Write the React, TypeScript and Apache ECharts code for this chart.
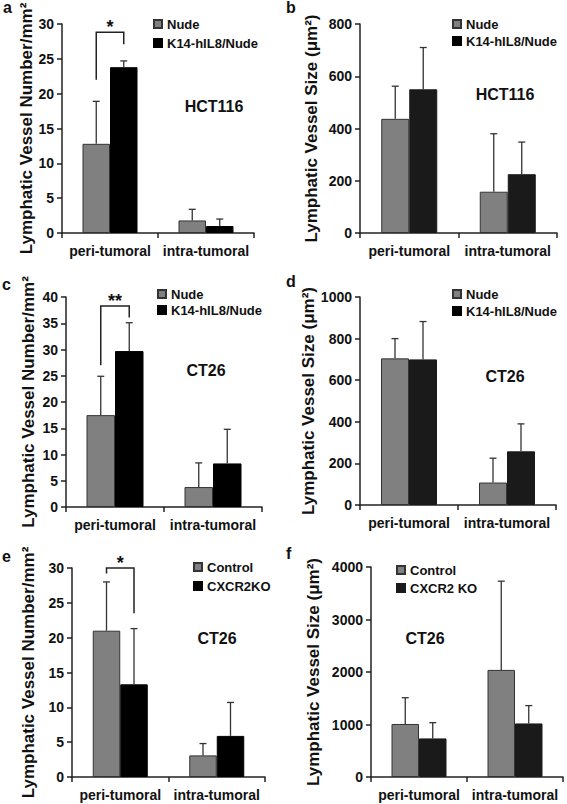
import { useEffect, useRef } from 'react';
import * as echarts from 'echarts';

const FONT = '"Liberation Sans", Arial, Helvetica, sans-serif';

const categories = ['peri-tumoral', 'intra-tumoral'];

// Panel a (HCT116, number/mm²)
const aNude = [12.8, 1.8];
const aNudeSD = [6.1, 1.6];
const aK14 = [23.8, 1.0];
const aK14SD = [0.9, 1.0];
const aBracket = [22, 28.8, 27.1];

// Panel b (HCT116, size µm²)
const bNude = [437, 158];
const bNudeSD = [125, 222];
const bK14 = [550, 225];
const bK14SD = [160, 123];

// Panel c (CT26, number/mm²)
const cNude = [17.5, 3.8];
const cNudeSD = [7.4, 4.6];
const cK14 = [29.7, 8.3];
const cK14SD = [5.4, 6.5];
const cBracket = [27, 38.3, 36.1];

// Panel d (CT26, size µm²)
const dNude = [705, 108];
const dNudeSD = [95, 117];
const dK14 = [700, 258];
const dK14SD = [182, 132];

// Panel e (CT26, Control vs CXCR2KO, number/mm²)
const eCtrl = [21.0, 3.1];
const eCtrlSD = [7.0, 1.7];
const eKO = [13.3, 5.9];
const eKOSD = [8.0, 4.8];
const eBracket = [29.2, 30, 23.5];

// Panel f (CT26, Control vs CXCR2 KO, size µm²)
const fCtrl = [1010, 2040];
const fCtrlSD = [500, 1690];
const fKO = [735, 1020];
const fKOSD = [300, 340];

const numberLabel = 'Lymphatic Vessel Number/mm²';
const sizeLabel = 'Lymphatic Vessel Size (μm²)';

type Panel = {
  letter: string;
  cell: string;
  names: string[];
  vals: number[][];
  sds: number[][];
  max: number;
  interval: number;
  yName: string;
  bracket?: number[];
  stars?: string;
  black: string;
  grid: { left: number; top: number; width: number; height: number };
  barWidth: number;
  nameGap: number;
  legend: { left: number; top: number; gap: number };
  cellPos: [number, number];
  letterPos: [number, number];
};

const panels: Panel[] = [
  {
    letter: 'a', cell: 'HCT116', names: ['Nude', 'K14-hIL8/Nude'],
    vals: [aNude, aK14], sds: [aNudeSD, aK14SD], max: 30, interval: 5, yName: numberLabel,
    bracket: aBracket, stars: '*', black: '#000',
    grid: { left: 62, top: 24, width: 192, height: 209 }, barWidth: 27.5, nameGap: 25,
    legend: { left: 153, top: 17, gap: 5 }, cellPos: [214, 106], letterPos: [3, 7],
  },
  {
    letter: 'b', cell: 'HCT116', names: ['Nude', 'K14-hIL8/Nude'],
    vals: [bNude, bK14], sds: [bNudeSD, bK14SD], max: 800, interval: 200, yName: sizeLabel,
    black: '#1a1a1a',
    grid: { left: 360, top: 24, width: 197, height: 209 }, barWidth: 28, nameGap: 40,
    legend: { left: 452, top: 17, gap: 3 }, cellPos: [505, 94], letterPos: [286, 7],
  },
  {
    letter: 'c', cell: 'CT26', names: ['Nude', 'K14-hIL8/Nude'],
    vals: [cNude, cK14], sds: [cNudeSD, cK14SD], max: 40, interval: 5, yName: numberLabel,
    bracket: cBracket, stars: '**', black: '#000',
    grid: { left: 66, top: 297, width: 196, height: 210 }, barWidth: 28.5, nameGap: 29,
    legend: { left: 157, top: 287, gap: 2 }, cellPos: [206, 370], letterPos: [2, 284],
  },
  {
    letter: 'd', cell: 'CT26', names: ['Nude', 'K14-hIL8/Nude'],
    vals: [dNude, dK14], sds: [dNudeSD, dK14SD], max: 1000, interval: 200, yName: sizeLabel,
    black: '#1a1a1a',
    grid: { left: 360, top: 297, width: 196, height: 208 }, barWidth: 28, nameGap: 41,
    legend: { left: 452, top: 287, gap: 3 }, cellPos: [505, 376], letterPos: [286, 281],
  },
  {
    letter: 'e', cell: 'CT26', names: ['Control', 'CXCR2KO'],
    vals: [eCtrl, eKO], sds: [eCtrlSD, eKOSD], max: 30, interval: 5, yName: numberLabel,
    bracket: eBracket, stars: '*', black: '#000',
    grid: { left: 72, top: 568, width: 193, height: 209 }, barWidth: 27.5, nameGap: 35,
    legend: { left: 193, top: 560, gap: 5 }, cellPos: [217, 638], letterPos: [2, 556],
  },
  {
    letter: 'f', cell: 'CT26', names: ['Control', 'CXCR2 KO'],
    vals: [fCtrl, fKO], sds: [fCtrlSD, fKOSD], max: 4000, interval: 1000, yName: sizeLabel,
    black: '#1a1a1a',
    grid: { left: 371, top: 567, width: 192, height: 210 }, barWidth: 27.5, nameGap: 49,
    legend: { left: 396, top: 563, gap: 4 }, cellPos: [425, 638], letterPos: [286, 553],
  },
];

const GRAY = '#808080';
const AXIS = '#222';
const TEXT = '#111';

function buildOption() {
  const grid: any[] = [];
  const xAxis: any[] = [];
  const yAxis: any[] = [];
  const series: any[] = [];
  const legend: any[] = [];
  const graphic: any[] = [];

  panels.forEach((p, i) => {
    grid.push({ ...p.grid });
    xAxis.push({
      type: 'category', gridIndex: i, data: categories,
      axisLine: { lineStyle: { color: AXIS, width: 1.5 } },
      axisTick: { show: true, length: 5, lineStyle: { color: AXIS, width: 1.5 } },
      axisLabel: {
        interval: 0, hideOverlap: false,
        fontSize: 14, fontWeight: 'bold', color: TEXT, margin: 11, fontFamily: FONT,
      },
    });
    yAxis.push({
      type: 'value', gridIndex: i, min: 0, max: p.max, interval: p.interval,
      name: p.yName, nameLocation: 'middle', nameRotate: 90, nameGap: p.nameGap,
      nameTextStyle: { fontSize: 17, fontWeight: 'bold', color: TEXT, fontFamily: FONT },
      axisLine: { show: true, lineStyle: { color: AXIS, width: 1.5 } },
      axisTick: { show: true, length: 5, lineStyle: { color: AXIS, width: 1.5 } },
      axisLabel: {
        fontSize: 14, fontWeight: 'bold', color: TEXT, margin: 8, fontFamily: FONT,
        formatter: (v: number) => String(v),
      },
      splitLine: { show: false },
    });
    const colors = [GRAY, p.black];
    const borders = ['#333', p.black];
    p.names.forEach((name, s) => {
      series.push({
        type: 'bar', name, xAxisIndex: i, yAxisIndex: i,
        data: p.vals[s], barWidth: p.barWidth, barGap: '0%',
        itemStyle: { color: colors[s], borderColor: borders[s], borderWidth: 1 },
        z: 2,
      });
    });
    p.names.forEach((_name, s) => {
      const sign = s === 0 ? -1 : 1;
      const bw = p.barWidth;
      series.push({
        type: 'custom', xAxisIndex: i, yAxisIndex: i, z: 3,
        encode: { x: 0, y: [1, 2] },
        data: categories.map((_c, k) => [k, p.vals[s][k], p.vals[s][k] + p.sds[s][k]]),
        renderItem: (_params: any, api: any) => {
          const cat = api.value(0);
          const base = api.coord([cat, api.value(1)]);
          const top = api.coord([cat, api.value(2)]);
          const x = base[0] + (sign * bw) / 2;
          const st = { stroke: '#333', lineWidth: 1.3 };
          return {
            type: 'group',
            children: [
              { type: 'line', shape: { x1: x, y1: base[1], x2: x, y2: top[1] }, style: st },
              { type: 'line', shape: { x1: x - 3.5, y1: top[1], x2: x + 3.5, y2: top[1] }, style: st },
            ],
          };
        },
      });
    });
    if (p.bracket) {
      const bw = p.barWidth;
      const stars = p.stars;
      series.push({
        type: 'custom', xAxisIndex: i, yAxisIndex: i, z: 4,
        encode: { x: 0, y: [1, 2, 3] },
        data: [[0, p.bracket[0], p.bracket[1], p.bracket[2]]],
        renderItem: (_params: any, api: any) => {
          const c = api.coord([0, api.value(1)]);
          const xl = c[0] - bw / 2;
          const xr = c[0] + bw / 2;
          const yl = c[1];
          const yt = api.coord([0, api.value(2)])[1];
          const yr = api.coord([0, api.value(3)])[1];
          return {
            type: 'group',
            children: [
              {
                type: 'polyline',
                shape: { points: [[xl, yl], [xl, yt], [xr, yt], [xr, yr]] },
                style: { stroke: '#222', lineWidth: 1.5, fill: 'none' },
              },
              {
                type: 'text',
                style: {
                  x: c[0], y: yt - 5, text: stars, fontSize: 18, fontWeight: 'bold',
                  fontFamily: FONT, fill: TEXT, align: 'center', verticalAlign: 'middle',
                },
              },
            ],
          };
        },
      });
    }
    legend.push({
      data: p.names, left: p.legend.left, top: p.legend.top, orient: 'vertical',
      itemWidth: 8, itemHeight: 8, itemGap: p.legend.gap, icon: 'rect', selectedMode: false,
      padding: 0,
      textStyle: { fontSize: 13, fontWeight: 'bold', color: TEXT, fontFamily: FONT, lineHeight: 14 },
    });
    graphic.push({
      type: 'text', x: p.cellPos[0], y: p.cellPos[1],
      style: {
        text: p.cell, fontSize: 16, fontWeight: 'bold', fill: TEXT, fontFamily: FONT,
        align: 'center', verticalAlign: 'middle',
      },
    });
    graphic.push({
      type: 'text', x: p.letterPos[0], y: p.letterPos[1],
      style: {
        text: p.letter, fontSize: 16, fontWeight: 'bold', fill: TEXT, fontFamily: FONT,
        align: 'left', verticalAlign: 'middle',
      },
    });
  });

  return {
    animation: false,
    backgroundColor: '#fff',
    grid, xAxis, yAxis, series, legend, graphic,
  };
}

export default function App() {
  const ref = useRef<HTMLDivElement>(null);
  useEffect(() => {
    if (!ref.current) return;
    const chart = echarts.init(ref.current, undefined, { renderer: 'svg' });
    chart.setOption(buildOption() as any);
    return () => chart.dispose();
  }, []);
  return (
    <div
      ref={ref}
      style={{ position: 'absolute', left: 0, top: 0, width: 567, height: 804, background: '#fff' }}
    />
  );
}
